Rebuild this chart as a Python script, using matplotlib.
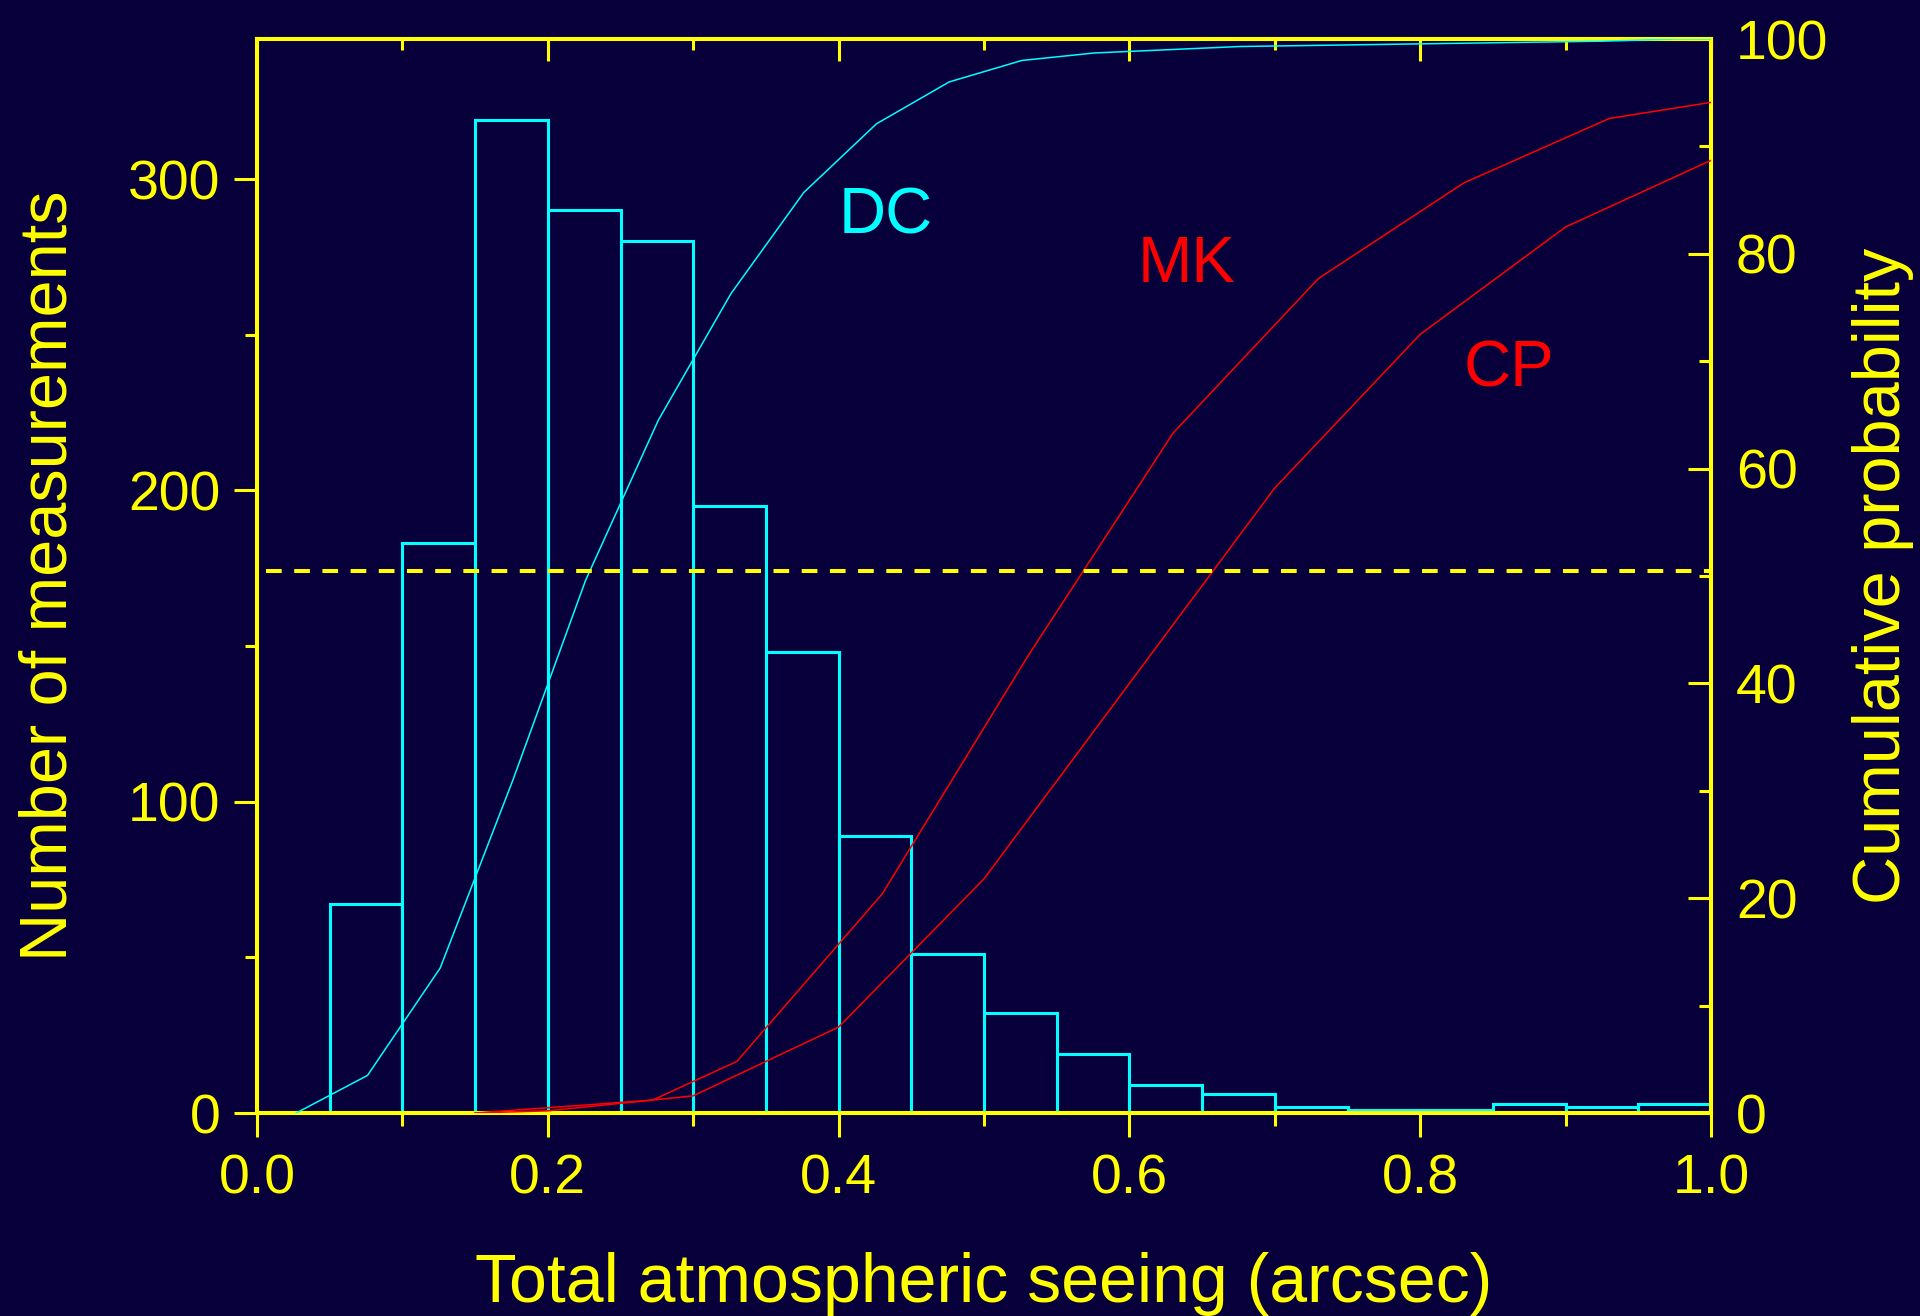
import numpy as np
import matplotlib
matplotlib.use("Agg")
import matplotlib.pyplot as plt
from matplotlib.ticker import MultipleLocator

plt.rcParams['font.family'] = ['Liberation Sans', 'DejaVu Sans']

# colours
bg = '#07003b'
yellow = '#ffff00'
cyan = '#00ffff'
red = '#ff0000'

# histogram of DC seeing (bins of 0.05 arcsec)
bin_edges = [0.05, 0.10, 0.15, 0.20, 0.25, 0.30, 0.35, 0.40, 0.45, 0.50,
             0.55, 0.60, 0.65, 0.70, 0.75, 0.80, 0.85, 0.90, 0.95, 1.00]
counts = [67, 183, 319, 290, 280, 195, 148, 89, 51, 32,
          19, 9, 6, 2, 1, 1, 3, 2, 3]

# cumulative probability curves (%)
dc_x = [0.027, 0.076, 0.126, 0.176, 0.226, 0.276, 0.326, 0.376, 0.426, 0.476,
        0.526, 0.576, 0.626, 0.676, 0.726, 0.776, 0.826, 0.876, 0.926, 0.976, 1.0]
dc_y = [0, 3.5, 13.5, 31.0, 49.6, 64.5, 76.3, 85.7, 92.1, 96.0,
        98.0, 98.7, 99.0, 99.3, 99.4, 99.5, 99.6, 99.7, 99.8, 100, 100]

mk_x = [0.15, 0.272, 0.33, 0.43, 0.53, 0.63, 0.73, 0.83, 0.93, 1.0]
mk_y = [0, 1.2, 4.8, 20.4, 42.5, 63.3, 77.7, 86.6, 92.6, 94.1]

cp_x = [0.15, 0.20, 0.30, 0.40, 0.50, 0.60, 0.70, 0.80, 0.90, 1.0]
cp_y = [0, 0.2, 1.6, 8.0, 21.8, 40.0, 58.2, 72.5, 82.5, 88.7]

median_level = 50.5

fig = plt.figure(figsize=(19.2, 13.16), dpi=100, facecolor=bg)
ax = fig.add_axes([257 / 1920, 1 - 1113 / 1316, 1454 / 1920, 1074 / 1316])
ax.set_facecolor(bg)

widths = np.diff(bin_edges)
ax.bar(bin_edges[:-1], counts, width=widths, align='edge', fill=False,
       edgecolor=cyan, linewidth=2.2, zorder=2)

ax.set_xlim(0, 1.0)
ax.set_ylim(0, 345)
ax.xaxis.set_major_locator(MultipleLocator(0.2))
ax.xaxis.set_minor_locator(MultipleLocator(0.1))
ax.yaxis.set_major_locator(MultipleLocator(100))
ax.yaxis.set_minor_locator(MultipleLocator(50))
ax.xaxis.set_major_formatter(plt.FormatStrFormatter('%.1f'))

ax.tick_params(axis='x', which='major', direction='out', length=17, width=2.2,
               color=yellow, labelcolor=yellow, labelsize=40, pad=12, top=False)
ax.tick_params(axis='x', which='minor', direction='out', length=9.4, width=2.2,
               color=yellow, top=False)
ax.tick_params(axis='y', which='major', direction='out', length=16.5, width=2.2,
               color=yellow, labelcolor=yellow, labelsize=40, pad=10, right=False)
ax.tick_params(axis='y', which='minor', direction='out', length=8.6, width=2.2,
               color=yellow, right=False)

for sp in ax.spines.values():
    sp.set_color(yellow)
    sp.set_linewidth(2.9)

ax.set_xlabel('Total atmospheric seeing (arcsec)', fontsize=49, color=yellow, labelpad=34)
ax.set_ylabel('Number of measurements', fontsize=48, color=yellow, labelpad=34)

# top ticks pointing inward
top = ax.secondary_xaxis('top')
top.xaxis.set_major_locator(MultipleLocator(0.2))
top.xaxis.set_minor_locator(MultipleLocator(0.1))
top.tick_params(axis='x', which='major', direction='in', length=16, width=2.2,
                color=yellow, labeltop=False)
top.tick_params(axis='x', which='minor', direction='in', length=8, width=2.2,
                color=yellow)
top.spines['top'].set_color(yellow)
top.spines['top'].set_linewidth(2.9)

# cumulative probability on the right axis
ax2 = ax.twinx()
ax2.set_ylim(0, 100)
ax2.plot(dc_x, dc_y, color=cyan, linewidth=1.1, zorder=3)
ax2.plot(mk_x, mk_y, color=red, linewidth=1.1, zorder=3)
ax2.plot(cp_x, cp_y, color=red, linewidth=1.1, zorder=3)
ax2.axhline(median_level, xmin=0.006, xmax=1.0, color=yellow, linewidth=2.9,
            linestyle=(0, (3.9, 3.1)), zorder=4)

ax2.yaxis.set_major_locator(MultipleLocator(20))
ax2.yaxis.set_minor_locator(MultipleLocator(10))
ax2.tick_params(axis='y', which='major', direction='in', length=16.5, width=2.2,
                color=yellow, labelcolor=yellow, labelsize=40, pad=18)
ax2.tick_params(axis='y', which='minor', direction='in', length=8.6, width=2.2,
                color=yellow)
for sp in ax2.spines.values():
    sp.set_color(yellow)
    sp.set_linewidth(2.9)
ax2.set_ylabel('Cumulative probability', fontsize=48, color=yellow, labelpad=17)

ax2.text(0.40, 81.9, 'DC', color=cyan, fontsize=47, ha='left', va='baseline')
ax2.text(0.606, 77.4, 'MK', color=red, fontsize=47, ha='left', va='baseline')
ax2.text(0.83, 67.6, 'CP', color=red, fontsize=47, ha='left', va='baseline')

fig.savefig('out.png', dpi=100, facecolor=bg)
